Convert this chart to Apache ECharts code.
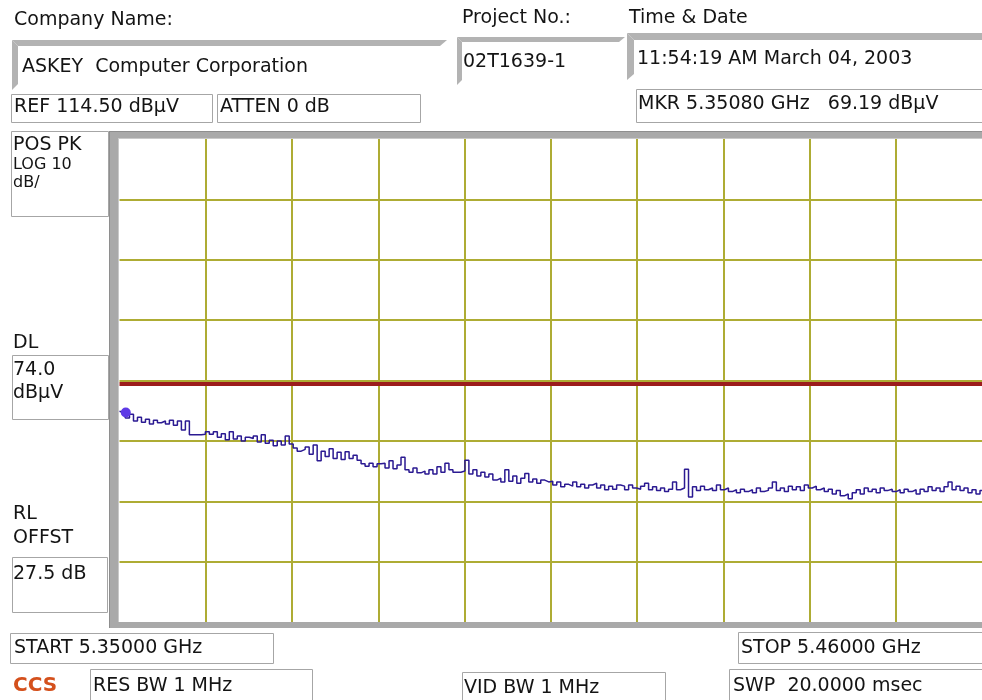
<!DOCTYPE html>
<html>
<head>
<meta charset="utf-8">
<script src="https://cdn.jsdelivr.net/npm/echarts@6/dist/echarts.min.js"></script>
<style>
html,body{margin:0;padding:0;background:#fff;}
#chart{width:982px;height:700px;}
</style>
</head>
<body>
<div id="chart"></div>
<script>
// ---- data ----
const START_GHZ = 5.35;
const STOP_GHZ = 5.46;
const REF_LEVEL = 114.5;      // dBµV (top of screen)
const DB_PER_DIV = 10;
const V_DIVS = 8;             // divisions visible on screen
const H_DIVS = 10;
const DISPLAY_LINE = 74.0;    // dBµV
const MARKER_FREQ = 5.3508;   // GHz
const MARKER_LEVEL = 69.19;   // dBµV

// trace levels in dBµV, evenly spaced sweep points from START to STOP
const traceLevels = [
  69.4, 69.2, 68.3, 68.9, 67.8, 68.4, 67.6, 68.1, 67.3, 67.9, 67.5, 67.8, 67.3, 67.9, 67.1, 67.8, 66.3, 67.8, 65.5, 65.5, 65.5, 65.6,
  66.0, 65.6, 66.0, 65.1, 65.7, 64.7, 66.0, 64.8, 65.3, 64.5, 65.1, 64.9, 65.3, 64.3, 65.5, 64.1, 64.6, 63.7, 64.5, 63.8, 65.3, 64.0,
  63.3, 62.8, 63.1, 63.5, 62.3, 63.8, 61.2, 62.8, 61.9, 63.2, 61.6, 62.6, 61.4, 62.7, 61.6, 62.1, 61.3, 60.7, 60.3, 60.8, 60.2, 60.7,
  60.8, 60.0, 61.2, 59.9, 60.5, 61.8, 59.7, 59.3, 60.0, 59.2, 59.5, 59.0, 59.7, 59.0, 60.2, 59.3, 60.8, 59.7, 59.3, 59.3, 59.5,
  61.3, 59.0, 59.7, 58.7, 59.3, 58.5, 59.0, 58.0, 58.3, 57.7, 59.7, 57.8, 58.7, 57.5, 58.3, 59.1, 57.7, 58.2, 57.5, 58.0, 57.7, 57.8,
  57.2, 57.7, 56.9, 57.3, 57.0, 57.7, 56.9, 57.3, 56.7, 57.2, 57.5, 56.7, 57.2, 56.4, 57.0, 56.5, 57.2, 57.0, 56.4, 57.2, 56.7,
  56.5, 57.0, 57.5, 56.4, 56.9, 56.3, 56.7, 56.1, 56.5, 57.7, 56.4, 56.7, 59.8, 55.2, 56.9, 56.3, 57.0, 56.4, 56.7, 56.3, 57.2, 56.4,
  56.7, 56.1, 56.4, 55.9, 56.5, 56.1, 56.4, 55.9, 56.7, 56.1, 56.3, 56.7, 57.7, 56.3, 56.7, 56.1, 57.0, 56.4, 56.9, 56.3, 57.2, 56.7,
  57.0, 56.4, 56.7, 56.1, 56.5, 55.7, 56.3, 55.4, 55.7, 54.9, 55.9, 56.4, 55.7, 56.7, 56.1, 56.5, 55.9, 56.7, 56.3, 56.5, 56.1,
  56.4, 55.9, 56.5, 56.1, 56.4, 55.7, 56.5, 56.1, 56.9, 56.3, 56.7, 56.1, 56.9, 57.7, 56.4, 57.0, 56.3, 56.7, 55.9, 56.4, 55.7, 56.3
];

// header / annotation texts
const companyLabel = 'Company Name:';
const companyName = 'ASKEY  Computer Corporation';
const projectLabel = 'Project No.:';
const projectNo = '02T1639-1';
const timeLabel = 'Time & Date';
const timeText = '11:54:19 AM March 04, 2003';
const refText = 'REF 114.50 dBµV';
const attenText = 'ATTEN 0 dB';
const mkrText = 'MKR 5.35080 GHz   69.19 dBµV';
const detLines = ['POS PK', 'LOG 10', 'dB/'];
const dlLines = ['DL', '74.0', 'dBµV'];
const rlLines = ['RL', 'OFFST', '27.5 dB'];
const startText = 'START 5.35000 GHz';
const stopText = 'STOP 5.46000 GHz';
const logoText = 'CCS';
const resBwText = 'RES BW 1 MHz';
const vidBwText = 'VID BW 1 MHz';
const swpText = 'SWP  20.0000 msec';

// ---- build ----
const n = traceLevels.length;
const traceData = traceLevels.map((v, i) => [START_GHZ + (STOP_GHZ - START_GHZ) * i / (n - 1), v]);
const bottomLevel = REF_LEVEL - DB_PER_DIV * V_DIVS;

const FONT = '19px "DejaVu Sans", Verdana, sans-serif';
const SMALL = '16px "DejaVu Sans", Verdana, sans-serif';
const TXT = '#141414';
const BOX = '#a6a6a6';
const BEVEL = '#b3b3b3';

function txt(s, x, y, font, fill) {
  return { type: 'text', z: 100, style: { text: s, x: x, y: y, font: font || FONT, fill: fill || TXT, textAlign: 'left', textVerticalAlign: 'middle' } };
}
function box(x, y, w, h) {
  return { type: 'rect', z: 90, shape: { x: x, y: y, width: w, height: h }, style: { fill: '#fff', stroke: BOX, lineWidth: 1 } };
}
function poly(pts, fill) {
  return { type: 'polygon', z: 95, shape: { points: pts }, style: { fill: fill || BEVEL } };
}
function rect(x, y, w, h, fill) {
  return { type: 'rect', z: 95, shape: { x: x, y: y, width: w, height: h }, style: { fill: fill } };
}

const graphics = [
  // sunken boxes (company, project, time)
  poly([[12, 40], [447, 40], [440, 46], [18, 46]]),
  poly([[12, 40], [18, 46], [18, 84], [12, 90]]),
  poly([[457, 37], [625, 37], [619, 42], [462, 42]]),
  poly([[457, 37], [462, 42], [462, 80], [457, 85]]),
  poly([[627, 33], [982, 33], [982, 40], [634, 40]]),
  poly([[627, 33], [634, 40], [634, 74], [627, 80]]),
  // framed boxes
  box(11.5, 94.5, 201, 28),
  box(217.5, 94.5, 203, 28),
  box(636.5, 89.5, 360, 33),
  box(11.5, 131.5, 97, 85),
  box(12.5, 355.5, 96, 64),
  box(12.5, 557.5, 95, 55),
  box(10.5, 633.5, 263, 30),
  box(90.5, 669.5, 222, 40),
  box(462.5, 672.5, 203, 40),
  box(738.5, 632.5, 260, 31),
  box(729.5, 669.5, 270, 40),
  // plot frame
  rect(109, 131, 873, 8, '#a9a9a9'),
  rect(109, 131, 10, 497, '#a9a9a9'),
  rect(109, 622, 873, 6, '#a9a9a9'),
  rect(109, 131, 873, 1, '#8e8e8e'),
  rect(109, 131, 1, 497, '#8e8e8e'),
  rect(118, 138, 864, 1, '#c9c9c9'),
  rect(118, 138, 1, 484, '#c9c9c9'),
  // texts
  txt(companyLabel, 14, 20),
  txt(companyName, 22, 67),
  txt(projectLabel, 462, 18),
  txt(projectNo, 463, 62),
  txt(timeLabel, 629, 18),
  txt(timeText, 637, 59),
  txt(refText, 14, 107),
  txt(attenText, 220, 107),
  txt(mkrText, 638, 104),
  txt(detLines[0], 13, 145),
  txt(detLines[1], 13, 165, SMALL),
  txt(detLines[2], 13, 183, SMALL),
  txt(dlLines[0], 13, 343),
  txt(dlLines[1], 13, 370),
  txt(dlLines[2], 13, 393),
  txt(rlLines[0], 13, 514),
  txt(rlLines[1], 13, 538),
  txt(rlLines[2], 13, 574),
  txt(startText, 14, 648),
  txt(stopText, 741, 648),
  txt(logoText, 13, 686, 'bold 20px "DejaVu Sans", Verdana, sans-serif', '#d4501c'),
  txt(resBwText, 93, 686),
  txt(vidBwText, 464, 688),
  txt(swpText, 733, 686)
];

const GRID_COLOR = '#aeac34';

const option = {
  animation: false,
  backgroundColor: '#ffffff',
  grid: { left: 119.5, top: 139, width: 865, height: 483, containLabel: false },
  xAxis: [
    { type: 'value', min: 0, max: H_DIVS, interval: 1,
      axisLine: { show: false }, axisTick: { show: false }, axisLabel: { show: false },
      splitLine: { show: true, showMinLine: false, showMaxLine: false, lineStyle: { color: GRID_COLOR, width: 2 } } },
    { type: 'value', min: START_GHZ, max: STOP_GHZ, show: false, splitLine: { show: false } }
  ],
  yAxis: [
    { type: 'value', min: 0, max: V_DIVS, interval: 1,
      axisLine: { show: false }, axisTick: { show: false }, axisLabel: { show: false },
      splitLine: { show: true, showMinLine: false, showMaxLine: false, lineStyle: { color: GRID_COLOR, width: 2 } } },
    { type: 'value', min: bottomLevel, max: REF_LEVEL, show: false, splitLine: { show: false } }
  ],
  series: [
    {
      type: 'line', xAxisIndex: 1, yAxisIndex: 1,
      data: traceData, step: 'middle', showSymbol: false, symbol: 'none',
      lineStyle: { color: '#2b1a92', width: 1.5 },
      markLine: {
        silent: true, symbol: 'none', label: { show: false },
        lineStyle: { color: '#9c1c1c', width: 4, type: 'solid' },
        data: [{ yAxis: DISPLAY_LINE }]
      },
      markPoint: {
        silent: true, symbol: 'circle', symbolSize: 10, label: { show: false },
        itemStyle: { color: '#5e3ae6' },
        data: [{ coord: [MARKER_FREQ, MARKER_LEVEL] }]
      }
    }
  ],
  graphic: graphics
};

const chart = echarts.init(document.getElementById('chart'), null, { renderer: 'canvas' });
chart.setOption(option);
</script>
</body>
</html>
